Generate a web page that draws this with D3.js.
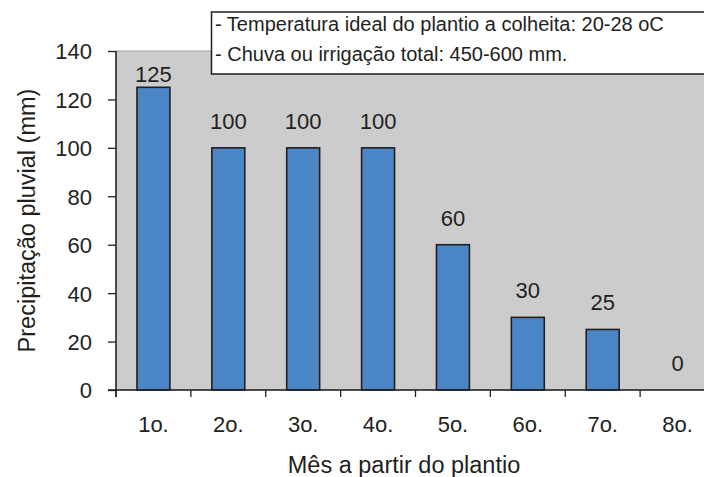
<!DOCTYPE html>
<html>
<head>
<meta charset="utf-8">
<script src="https://cdn.jsdelivr.net/npm/d3@7"></script>
<style>
  html, body { margin: 0; padding: 0; background: #ffffff; }
  svg { display: block; }
  text { font-family: "Liberation Sans", Arial, sans-serif; fill: #231f20; }
</style>
</head>
<body>
<svg id="chart" width="704" height="477"></svg>
<script>
// Monthly rainfall needed from planting to harvest
const months = ["1o.", "2o.", "3o.", "4o.", "5o.", "6o.", "7o.", "8o."];
const rainfall = [125, 100, 100, 100, 60, 30, 25, 0];
const yTicks = [0, 20, 40, 60, 80, 100, 120, 140];
const notes = [
  "- Temperatura ideal do plantio a colheita: 20-28 oC",
  "- Chuva ou irrigação total: 450-600 mm."
];
const yTitle = "Precipitação pluvial (mm)";
const xTitle = "Mês a partir do plantio";

const svg = d3.select("#chart");
const plot = { left: 116, right: 715, top: 51, bottom: 390 };
const labelSize = 22;
const titleSize = 23.5;

const x = d3.scaleBand().domain(months).range([plot.left, plot.right]).padding(0);
const y = d3.scaleLinear().domain([0, 140]).range([plot.bottom, plot.top]);
const barW = x.bandwidth() * 0.44;

// plot background
svg.append("rect")
  .attr("x", plot.left).attr("y", plot.top)
  .attr("width", plot.right - plot.left).attr("height", plot.bottom - plot.top)
  .attr("fill", "#cccccc").attr("stroke", "#a0a0a0").attr("stroke-width", 1);

// bars
svg.append("g").selectAll("rect")
  .data(months.map((m, i) => ({ m, v: rainfall[i] })))
  .join("rect")
  .attr("x", d => x(d.m) + (x.bandwidth() - barW) / 2)
  .attr("y", d => y(d.v))
  .attr("width", barW)
  .attr("height", d => y(0) - y(d.v))
  .attr("fill", "#4a86c6")
  .attr("stroke", "#231f20")
  .attr("stroke-width", 1.6)
  .attr("display", d => d.v > 0 ? null : "none");

// value labels above bars, kept inside the plot area
svg.append("g").selectAll("text")
  .data(months.map((m, i) => ({ m, v: rainfall[i] })))
  .join("text")
  .attr("x", d => x(d.m) + x.bandwidth() / 2)
  .attr("y", d => Math.max(y(d.v) - 19, plot.top + 31))
  .attr("text-anchor", "middle")
  .attr("font-size", labelSize)
  .text(d => d.v);

// y axis
const yAxis = d3.axisLeft(y).tickValues(yTicks).tickSize(8).tickPadding(16).tickSizeOuter(0);
const gy = svg.append("g").attr("transform", `translate(${plot.left},0)`).call(yAxis);
gy.select(".domain").attr("stroke", "#231f20").attr("stroke-width", 1.5)
  .attr("d", `M0,${plot.top}V${plot.bottom + 7}`);
gy.selectAll(".tick line").attr("stroke", "#231f20").attr("stroke-width", 1.3);
gy.selectAll(".tick text").attr("font-size", labelSize).attr("font-family", "Liberation Sans, Arial, sans-serif")
  .attr("fill", "#231f20").attr("dy", "0.36em");

// x axis: baseline, tick marks at category boundaries, labels at band centres
const gx = svg.append("g");
gx.append("line")
  .attr("x1", plot.left - 8).attr("x2", plot.right)
  .attr("y1", y(0)).attr("y2", y(0))
  .attr("stroke", "#231f20").attr("stroke-width", 1.5);
const bounds = months.map(m => x(m)).concat([x(months[months.length - 1]) + x.bandwidth()]);
gx.selectAll("line.tick").data(bounds).join("line")
  .attr("class", "tick")
  .attr("x1", d => d).attr("x2", d => d)
  .attr("y1", y(0)).attr("y2", y(0) + 7)
  .attr("stroke", "#231f20").attr("stroke-width", 1.3);
gx.selectAll("text").data(months).join("text")
  .attr("x", d => x(d) + x.bandwidth() / 2)
  .attr("y", 432)
  .attr("text-anchor", "middle")
  .attr("font-size", labelSize)
  .text(d => d);

// axis titles
svg.append("text")
  .attr("transform", `translate(35,${(plot.top + plot.bottom) / 2}) rotate(-90)`)
  .attr("text-anchor", "middle")
  .attr("font-size", titleSize)
  .text(yTitle);
svg.append("text")
  .attr("x", 404).attr("y", 473)
  .attr("text-anchor", "middle")
  .attr("font-size", titleSize)
  .text(xTitle);

// notes box
const box = svg.append("g");
box.append("rect")
  .attr("x", 211.5).attr("y", 12)
  .attr("width", 520).attr("height", 62)
  .attr("fill", "#ffffff").attr("stroke", "#231f20").attr("stroke-width", 1.5);
box.selectAll("text").data(notes).join("text")
  .attr("x", 215)
  .attr("y", (d, i) => 31 + i * 30)
  .attr("font-size", 20)
  .text(d => d);
</script>
</body>
</html>
